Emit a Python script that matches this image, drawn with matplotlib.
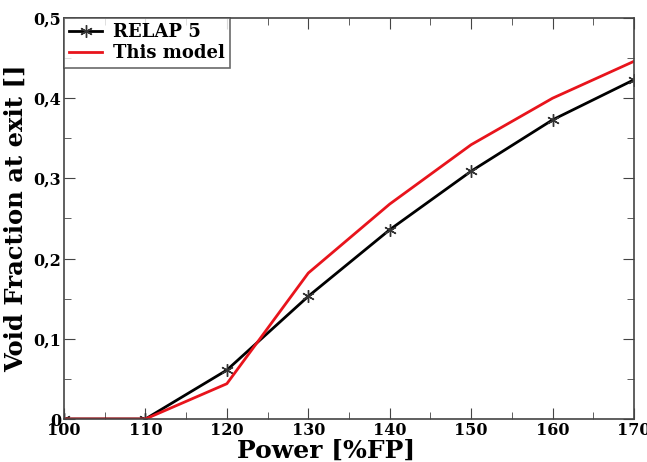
import matplotlib
matplotlib.use("Agg")
import matplotlib.pyplot as plt
from matplotlib.ticker import MultipleLocator, FuncFormatter

power = [100, 110, 120, 130, 140, 150, 160, 170]
relap = [0.0, 0.0, 0.061, 0.153, 0.236, 0.309, 0.373, 0.423]
model = [0.0, 0.0, 0.044, 0.182, 0.268, 0.342, 0.400, 0.446]

plt.rcParams['font.family'] = ['DejaVu Serif']
plt.rcParams['font.weight'] = 'bold'

fig = plt.figure(figsize=(6.47, 4.62), dpi=100)
ax = fig.add_axes([64/647, 1-419/462, (634-64)/647, (419-18)/462])

ax.plot(power, relap, color='black', lw=2, marker=(6, 2, 0), ms=9, mew=1,
        mec='#333333', label='RELAP 5')
ax.plot(power, model, color='#e8141c', lw=2, label='This model')

ax.set_xlim(100, 170)
ax.set_ylim(0, 0.5)
ax.xaxis.set_major_locator(MultipleLocator(10))
ax.xaxis.set_minor_locator(MultipleLocator(5))
ax.yaxis.set_major_locator(MultipleLocator(0.1))
ax.yaxis.set_minor_locator(MultipleLocator(0.05))
ax.yaxis.set_major_formatter(FuncFormatter(lambda v, p: ('%g' % round(v, 2)).replace('.', ',')))
ax.tick_params(which='both', direction='in', top=True, right=True, labelsize=11.5, pad=2, color='#444444')
ax.tick_params(which='major', length=8)
ax.tick_params(which='minor', length=5)
for s in ax.spines.values():
    s.set_linewidth(1.2)
    s.set_color('#444444')
for lab in ax.get_xticklabels() + ax.get_yticklabels():
    lab.set_fontweight('bold')

ax.set_xlabel('Power [%FP]', fontsize=18, fontweight='bold', labelpad=0)
ax.xaxis.label.set_x(0.46)
ax.set_ylabel('Void Fraction at exit []', fontsize=17.5, fontweight='bold', labelpad=4)

leg = ax.legend(loc='upper left', fontsize=13, frameon=True, fancybox=False,
                borderaxespad=0, handlelength=1.8, handletextpad=0.6,
                borderpad=0.3, labelspacing=0.15)
leg.get_frame().set_edgecolor('#444444')
leg.get_frame().set_linewidth(1.2)
for t in leg.get_texts():
    t.set_fontweight('bold')

fig.savefig('out.png', dpi=100)
